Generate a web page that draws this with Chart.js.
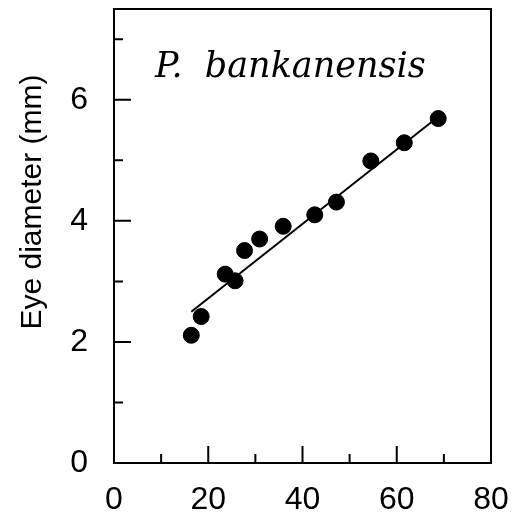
<!DOCTYPE html>
<html>
<head>
<meta charset="utf-8">
<script src="https://cdn.jsdelivr.net/npm/chart.js@4"></script>
<style>
  html, body { margin: 0; padding: 0; background: #fff; }
  #wrap { width: 512px; height: 519px; }
</style>
</head>
<body>
<div id="wrap"><canvas id="eyeChart" width="512" height="519"></canvas></div>
<script>
// values
const bodyLength = [16.4, 18.5, 23.6, 25.7, 27.7, 30.9, 35.9, 42.6, 47.2, 54.5, 61.6, 68.8];
const eyeDiameter = [2.11, 2.42, 3.12, 3.01, 3.51, 3.70, 3.91, 4.10, 4.31, 4.99, 5.29, 5.69];
const fitX = [16.4, 68.8];
const fitY = [2.50, 5.72];
const xTicks = [0, 20, 40, 60, 80];
const yTicks = [0, 2, 4, 6];
const xMinor = [10, 30, 50, 70];
const yMinor = [1, 3, 5, 7];
const speciesName = "P.  bankanensis";
const yTitle = "Eye diameter (mm)";

const sansFont = "'Liberation Sans', Arial, sans-serif";

// ticks point inward and the box is closed, so draw those by hand from the scales
const framePlugin = {
  id: "frame",
  afterDatasetsDraw(chart) {
    const ctx = chart.ctx;
    const { left, right, top, bottom } = chart.chartArea;
    const xs = chart.scales.x, ys = chart.scales.y;
    ctx.save();
    ctx.strokeStyle = "#000";
    ctx.lineWidth = 2;
    ctx.strokeRect(left, top, right - left, bottom - top);

    ctx.beginPath();
    xTicks.forEach(v => { const p = xs.getPixelForValue(v); ctx.moveTo(p, bottom); ctx.lineTo(p, bottom - 17); });
    xMinor.forEach(v => { const p = xs.getPixelForValue(v); ctx.moveTo(p, bottom); ctx.lineTo(p, bottom - 9); });
    yTicks.forEach(v => { const p = ys.getPixelForValue(v); ctx.moveTo(left, p); ctx.lineTo(left + 17, p); });
    yMinor.forEach(v => { const p = ys.getPixelForValue(v); ctx.moveTo(left, p); ctx.lineTo(left + 9, p); });
    ctx.stroke();

    // species name in the top of the panel
    ctx.fillStyle = "#000";
    ctx.font = "italic 35px 'DejaVu Serif', 'Liberation Serif', serif";
    ctx.textAlign = "left";
    ctx.textBaseline = "alphabetic";
    ctx.fillText(speciesName, 155, 77);

    // y title
    ctx.font = "30px " + sansFont;
    ctx.translate(33, 202);
    ctx.rotate(-Math.PI / 2);
    ctx.textAlign = "center";
    ctx.textBaseline = "middle";
    ctx.fillText(yTitle, 0, 0);
    ctx.restore();
  }
};

// drop the room chart.js keeps for overhanging end labels
function noOverhang(s) {
  s.paddingTop = 0; s.paddingBottom = 0; s.paddingLeft = 0; s.paddingRight = 0;
}

new Chart(document.getElementById("eyeChart").getContext("2d"), {
  data: {
    datasets: [
      {
        type: "line",
        data: fitX.map((x, i) => ({ x, y: fitY[i] })),
        borderColor: "#000",
        borderWidth: 2,
        pointRadius: 0,
        fill: false
      },
      {
        type: "scatter",
        data: bodyLength.map((x, i) => ({ x, y: eyeDiameter[i] })),
        backgroundColor: "#000",
        borderColor: "#000",
        pointRadius: 8,
        pointHoverRadius: 8
      }
    ]
  },
  options: {
    responsive: false,
    animation: false,
    events: [],
    layout: { padding: { top: 9, right: 21, left: 0, bottom: 0 } },
    plugins: { legend: { display: false }, tooltip: { enabled: false } },
    scales: {
      x: {
        type: "linear",
        min: 0, max: 80,
        afterBuildTicks: s => { s.ticks = xTicks.map(v => ({ value: v })); },
        afterFit: s => { s.height = 56; noOverhang(s); },
        grid: { display: false, drawTicks: false },
        border: { display: false },
        ticks: { color: "#000", font: { family: sansFont, size: 32 }, padding: 18, maxRotation: 0 }
      },
      y: {
        type: "linear",
        min: 0, max: 7.5,
        afterBuildTicks: s => { s.ticks = yTicks.map(v => ({ value: v })); },
        afterFit: s => { s.width = 114; noOverhang(s); },
        grid: { display: false, drawTicks: false },
        border: { display: false },
        ticks: { color: "#000", font: { family: sansFont, size: 32 }, padding: 26 }
      }
    }
  },
  plugins: [framePlugin]
});
</script>
</body>
</html>
